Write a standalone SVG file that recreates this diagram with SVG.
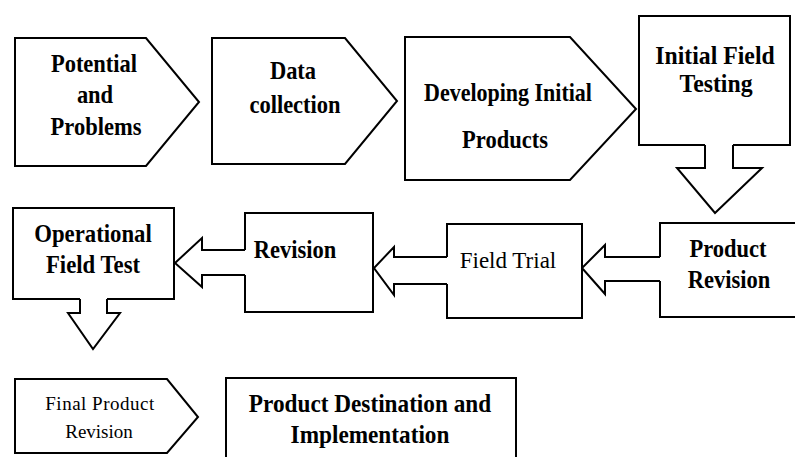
<svg xmlns="http://www.w3.org/2000/svg" width="795" height="457" viewBox="0 0 795 457">
<style>
.shape{fill:#fff;stroke:#000;stroke-width:2;stroke-linejoin:miter}
.arrow{fill:none;stroke:#000;stroke-width:2;stroke-linejoin:miter}
.b{font-family:"Liberation Serif","Times New Roman",serif;font-weight:bold;font-size:25px;text-anchor:middle;fill:#000}
.r{font-family:"Liberation Serif","Times New Roman",serif;font-size:23px;text-anchor:middle;fill:#000}
.s{font-family:"Liberation Serif","Times New Roman",serif;font-size:19px;text-anchor:middle;fill:#000}
</style>
<rect width="795" height="457" fill="#fff"/>
<g id="connectors">
<path class="arrow" d="M733,145 L733,168 L762,168 L715,213 L677,168 L705,168 L705,145"/>
<path class="arrow" d="M660,257 L605,257 L605,245 L582,268 L605,294 L605,281 L660,281"/>
<path class="arrow" d="M447,257 L394,257 L394,247 L374,268 L394,295 L394,284 L447,284"/>
<path class="arrow" d="M245,250 L202,250 L202,238 L175,263 L202,287 L202,275 L245,275"/>
<path class="arrow" d="M107,299 L107,313 L120,313 L93,349 L68,313 L80,313 L80,299"/>
</g>
<g id="potential-problems">
<path class="shape" d="M15,38 L146,38 L199,102 L146,166 L15,166 Z"/>
<text class="b" transform="translate(94,72) scale(0.9,1)">Potential</text>
<text class="b" transform="translate(95,103) scale(0.9,1)">and</text>
<text class="b" transform="translate(96,135) scale(0.9,1)">Problems</text>
</g>
<g id="data-collection">
<path class="shape" d="M212,38 L345,38 L397,101 L345,164 L212,164 Z"/>
<text class="b" transform="translate(293,79) scale(0.9,1)">Data</text>
<text class="b" transform="translate(295,113) scale(0.9,1)">collection</text>
</g>
<g id="developing-initial-products">
<path class="shape" d="M405,37 L570,37 L636,109 L570,180 L405,180 Z"/>
<text class="b" transform="translate(508,101) scale(0.88,1)">Developing Initial</text>
<text class="b" transform="translate(505,148) scale(0.9,1)">Products</text>
</g>
<g id="initial-field-testing">
<path class="shape" d="M705,145 L639,145 L639,16 L790,16 L790,145 L733,145"/>
<text class="b" font-size="24" transform="translate(715,64) scale(0.95,1)">Initial Field</text>
<text class="b" font-size="24" transform="translate(716,92) scale(0.95,1)">Testing</text>
</g>
<g id="product-revision">
<path class="shape" d="M660,257 L660,223 L800,223 L800,317 L660,317 L660,281"/>
<text class="b" transform="translate(728,257) scale(0.9,1)">Product</text>
<text class="b" transform="translate(729,288) scale(0.9,1)">Revision</text>
</g>
<g id="field-trial">
<path class="shape" d="M447,257 L447,224 L582,224 L582,318 L447,318 L447,284"/>
<text class="r" x="508" y="268">Field Trial</text>
</g>
<g id="revision">
<path class="shape" d="M245,250 L245,213 L373,213 L373,312 L245,312 L245,275"/>
<text class="b" transform="translate(295,258) scale(0.9,1)">Revision</text>
</g>
<g id="operational-field-test">
<path class="shape" d="M80,299 L13,299 L13,208 L174,208 L174,299 L107,299"/>
<text class="b" transform="translate(93,242) scale(0.91,1)">Operational</text>
<text class="b" transform="translate(93,273) scale(0.91,1)">Field Test</text>
</g>
<g id="final-product-revision">
<path class="shape" d="M15,379 L167,379 L198,417 L167,453 L15,453 Z"/>
<text class="s" x="100" y="410" letter-spacing="0.5">Final Product</text>
<text class="s" x="99" y="438">Revision</text>
</g>
<g id="product-destination-implementation">
<rect class="shape" x="226" y="378" width="290" height="90"/>
<text class="b" transform="translate(370,412) scale(0.93,1)">Product Destination and</text>
<text class="b" transform="translate(370,443) scale(0.93,1)">Implementation</text>
</g>
</svg>
